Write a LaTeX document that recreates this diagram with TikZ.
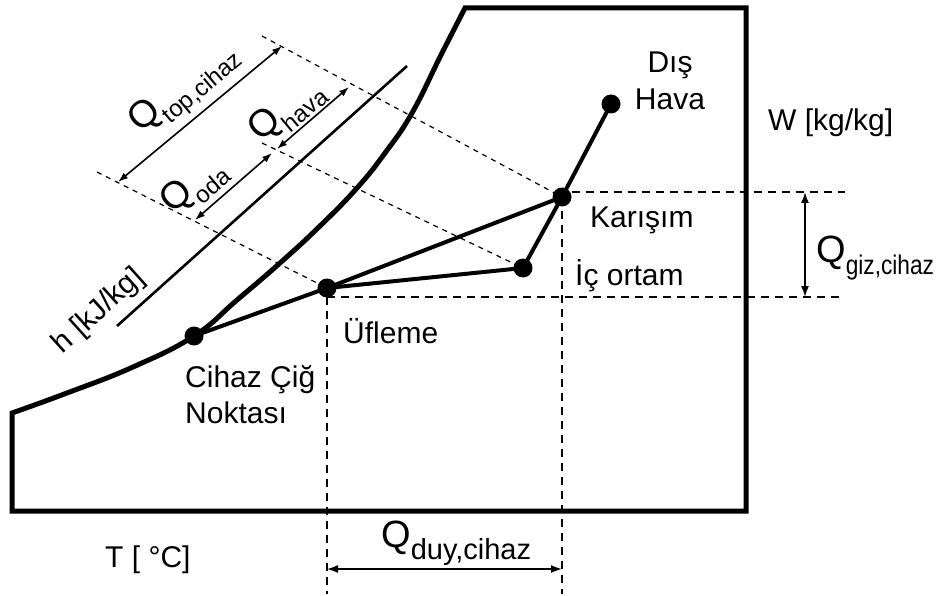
\documentclass[tikz,border=0pt]{standalone}
\usepackage{fontspec}
\setmainfont{Liberation Sans}
\usetikzlibrary{arrows.meta}
\newcommand{\Qsym}[3][1]{{\fontsize{38}{40}\selectfont Q}\raisebox{-12pt}{\scalebox{#1}[1]{\fontsize{#2}{28}\selectfont #3}}}
\begin{document}
\begin{tikzpicture}[x=1pt,y=-1pt,
  thickl/.style={line width=4pt, line cap=round, line join=round},
  frame/.style={line width=5pt, line join=miter},
  dsh/.style={dash pattern=on 5pt off 5pt, line width=1.2pt},
  dsh2/.style={dash pattern=on 8pt off 6pt, line width=1.8pt},
  dot/.style={circle, fill=black, inner sep=0pt, minimum size=19pt},
  lbl/.style={font=\fontsize{30}{34}\selectfont, inner sep=0pt},
  dim/.style={line width=1.6pt, {Latex[length=11pt,width=8pt]}-{Latex[length=11pt,width=8pt]}},
  dims/.style={line width=1.6pt, {Latex[length=10pt,width=7pt]}-{Latex[length=10pt,width=7pt]}}
]
\useasboundingbox (0,0) rectangle (937,596);
% frame with saturation curve
\draw[frame] plot[smooth, tension=0.75] coordinates {(465,8) (441,55) (412,113) (385,153) (357,188) (320,226) (280,263) (237,300) (194,336) (133,367) (67,393) (12,413)}
  -- (12,511) -- (746,511) -- (746,8) -- cycle;
% state points
\node[dot] (dis) at (611,104) {};
\node[dot] (kar) at (562,197) {};
\node[dot] (ic) at (523,268) {};
\node[dot] (uf) at (327,288) {};
\node[dot] (cih) at (194,336) {};
% process lines
\draw[thickl] (dis.center) -- (kar.center) -- (ic.center) -- (uf.center) -- (cih.center);
\draw[thickl] (kar.center) -- (uf.center);
% constant enthalpy lines
\coordinate (l1) at (262,36);
\coordinate (l2) at (262,143);
\coordinate (l3) at (97,172);
\draw[dsh] (l1) -- (kar.center);
\draw[dsh] (l2) -- (ic.center);
\draw[dsh] (l3) -- (uf.center);
% h axis line
\coordinate (h1) at (117,326);
\coordinate (h2) at (407,66);
\draw[line width=2.6pt] (h1) -- (h2);
% projection dashed lines
\coordinate (gt) at (845,192);
\coordinate (gb) at (840,297);
\coordinate (vb) at (0,594);
\draw[dsh2] (kar.east |- gt) -- (gt);
\draw[dsh2] (uf.center |- gb) -- (gb);
\draw[dsh2] (uf.center |- gb) -- (uf.center |- vb);
\draw[dsh2] (kar.center) -- (kar.center |- vb);
% dimension arrows
\coordinate (qg1) at (805,192);
\coordinate (qg2) at (805,297);
\draw[dim] (qg1) -- (qg2);
\coordinate (qd1) at (327,569);
\coordinate (qd2) at (562,569);
\draw[dim] (qd1) -- (qd2);
\coordinate (qt1) at (118,182);
\coordinate (qt2) at (282,46);
\draw[dims] (qt1) -- (qt2);
\coordinate (qo1) at (195,220);
\coordinate (qo2) at (272,153);
\draw[dims] (qo1) -- (qo2);
\coordinate (qh1) at (277,149);
\coordinate (qh2) at (349,87);
\draw[dims] (qh1) -- (qh2);
% labels
\node[lbl, anchor=base] (tdis) at (670,73) {Dış};
\node[lbl, anchor=base] (thava) at (670,110) {Hava};
\node[lbl, anchor=base west] (tw) at (768,131) {W [kg/kg]};
\node[lbl, anchor=base west] (tkar) at (590,228) {Karışım};
\node[lbl, anchor=base west] (tic) at (575,285) {İç ortam};
\node[lbl, anchor=base west] (tuf) at (343,343) {Üfleme};
\node[lbl, anchor=base west] (tcih) at (185,387) {Cihaz Çiğ};
\node[lbl, anchor=base west] (tnok) at (185,423) {Noktası};
\node[lbl, anchor=base west] (tT) at (105,567) {T [ °C]};
\node[lbl, anchor=base, rotate=42] (th) at (104,317) {h [kJ/kg]};
\node[lbl, anchor=base west] (qgiz) at (816,262) {\Qsym[0.84]{27}{giz,cihaz}};
\node[lbl, anchor=base west] (qduy) at (381,547) {\Qsym{29}{duy,cihaz}};
\node[lbl, anchor=base west, rotate=40] (qtop) at (140,134) {\Qsym{24}{top,cihaz}};
\node[lbl, anchor=base west, rotate=40] (qoda) at (172,215) {\Qsym{24}{oda}};
\node[lbl, anchor=base west, rotate=40] (qhava) at (260,143) {\Qsym{24}{hava}};
\end{tikzpicture}
\end{document}
